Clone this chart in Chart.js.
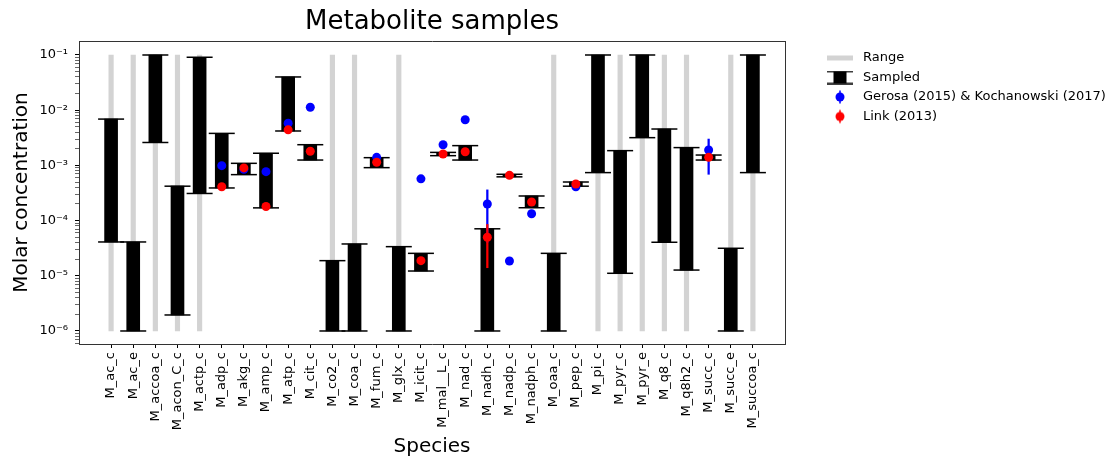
<!DOCTYPE html>
<html>
<head>
<meta charset="utf-8">
<script src="https://cdn.jsdelivr.net/npm/chart.js@4.4.0/dist/chart.umd.min.js"></script>
<style>
  html, body { margin: 0; padding: 0; background: #fff; }
  #wrap { width: 1110px; height: 456px; }
</style>
</head>
<body>
<div id="wrap"><canvas id="chart" width="1110" height="456"></canvas></div>
<script>
// species along the x axis
const species = ['M_ac_c', 'M_ac_e', 'M_accoa_c', 'M_acon_C_c', 'M_actp_c', 'M_adp_c', 'M_akg_c', 'M_amp_c',
  'M_atp_c', 'M_cit_c', 'M_co2_c', 'M_coa_c', 'M_fum_c', 'M_glx_c', 'M_icit_c', 'M_mal__L_c', 'M_nad_c',
  'M_nadh_c', 'M_nadp_c', 'M_nadph_c', 'M_oaa_c', 'M_pep_c', 'M_pi_c', 'M_pyr_c', 'M_pyr_e', 'M_q8_c',
  'M_q8h2_c', 'M_succ_c', 'M_succ_e', 'M_succoa_c'];

// allowed range (null = same as the sampled bar)
const rangeLo = [1e-6, 1e-6, 1e-6, 1e-6, 1e-6, null, null, null, null, null, 1e-6, 1e-6, null, 1e-6, null,
  null, null, null, null, null, 1e-6, null, 1e-6, 1e-6, 1e-6, 1e-6, 1e-6, null, 1e-6, 1e-6];
const rangeHi = [0.1, 0.1, 0.1, 0.1, 0.1, null, null, null, null, null, 0.1, 0.1, null, 0.1, null,
  null, null, null, null, null, 0.1, null, 0.1, 0.1, 0.1, 0.1, 0.1, null, 0.1, 0.1];

// sampled interval
const sampledLo = [4.1e-5, 1e-6, 2.6e-3, 1.95e-6, 3.1e-4, 3.9e-4, 6.8e-4, 1.7e-4, 4.2e-3, 1.25e-3, 1e-6, 1e-6,
  9.1e-4, 1e-6, 1.22e-5, 1.5e-3, 1.25e-3, 1e-6, 6.2e-4, 1.71e-4, 1e-6, 4.2e-4, 7.4e-4, 1.11e-5, 3.18e-3,
  4.05e-5, 1.27e-5, 1.25e-3, 1e-6, 7.4e-4];
const sampledHi = [6.9e-3, 4.1e-5, 0.1, 4.2e-4, 0.091, 3.8e-3, 1.09e-3, 1.66e-3, 0.04, 2.37e-3, 1.88e-5, 3.77e-5,
  1.38e-3, 3.37e-5, 2.55e-5, 1.72e-3, 2.28e-3, 7.1e-5, 6.9e-4, 2.79e-4, 2.55e-5, 5.0e-4, 0.1, 1.85e-3, 0.1,
  4.56e-3, 2.1e-3, 1.54e-3, 3.15e-5, 0.1];

// Gerosa (2015) & Kochanowski (2017)
const gerosa = [null, null, null, null, null, 9.9e-4, 8.5e-4, 7.7e-4, 5.8e-3, 0.0113, null, null, 1.4e-3, null,
  5.7e-4, 2.37e-3, 6.7e-3, 2.0e-4, 1.85e-5, 1.33e-4, null, 4.1e-4, null, null, null, null, null, 1.9e-3, null, null];
const gerosaErrLo = [null, null, null, null, null, null, null, null, null, null, null, null, null, null, null,
  null, null, 4e-5, null, null, null, null, null, null, null, null, null, 6.9e-4, null, null];
const gerosaErrHi = [null, null, null, null, null, null, null, null, null, null, null, null, null, null, null,
  null, null, 3.6e-4, null, null, null, null, null, null, null, null, null, 3.0e-3, null, null];

// Link (2013)
const link = [null, null, null, null, null, 4.1e-4, 9e-4, 1.8e-4, 4.4e-3, 1.8e-3, null, null, 1.14e-3, null,
  1.88e-5, 1.61e-3, 1.77e-3, 5.0e-5, 6.6e-4, 2.17e-4, null, 4.6e-4, null, null, null, null, null, 1.4e-3, null, null];
const linkErrLo = [null, null, null, null, null, null, null, null, null, null, null, null, null, null, null,
  null, null, 1.4e-5, null, null, null, null, null, null, null, null, null, null, null, null];
const linkErrHi = [null, null, null, null, null, null, null, null, null, null, null, null, null, null, null,
  null, null, 8.5e-5, null, null, null, null, null, null, null, null, null, null, null, null];

const yDecades = [-7, -6, -5, -4, -3, -2, -1];

const FONT = 'DejaVu Sans';
const sup = { '-': '\u207B', '0': '\u2070', '1': '\u00B9', '2': '\u00B2', '3': '\u00B3', '4': '\u2074',
  '5': '\u2075', '6': '\u2076', '7': '\u2077' };

function bars(lo, hi) {
  return species.map((s, i) => (lo[i] == null ? null : { x: i, y: [lo[i], hi[i]] })).filter(Boolean);
}
function pts(vals) {
  return species.map((s, i) => (vals[i] == null ? null : { x: i, y: vals[i] })).filter(Boolean);
}
const caps = pts(sampledLo).concat(pts(sampledHi));

// legend icons
function icon(w, h, draw) {
  const c = document.createElement('canvas');
  c.width = w; c.height = h;
  draw(c.getContext('2d'));
  return c;
}
const rangeIcon = icon(28, 6, g => { g.fillStyle = '#d3d3d3'; g.fillRect(1, 0.5, 26, 5); });
const sampledIcon = icon(28, 14, g => {
  g.fillStyle = '#000'; g.fillRect(7.5, 1, 13, 12);
  g.strokeStyle = '#000'; g.lineWidth = 1.5;
  g.beginPath(); g.moveTo(1, 1); g.lineTo(27, 1); g.moveTo(1, 13); g.lineTo(27, 13); g.stroke();
});
function dotIcon(color) {
  return icon(12, 16, g => {
    g.strokeStyle = color; g.lineWidth = 1.5;
    g.beginPath(); g.moveTo(6, 1.5); g.lineTo(6, 14.5); g.stroke();
    g.fillStyle = color; g.beginPath(); g.arc(6, 8, 4.5, 0, Math.PI * 2); g.fill();
  });
}

new Chart(document.getElementById('chart'), {
  type: 'bar',
  data: {
    datasets: [
      { label: 'Range', data: bars(rangeLo, rangeHi), backgroundColor: '#d3d3d3', barThickness: 4.5, grouped: false, order: 7 },
      { label: 'Sampled', data: bars(sampledLo, sampledHi), backgroundColor: '#000', barThickness: 13, grouped: false, order: 6 },
      { type: 'scatter', label: 'Sampled caps', data: caps, pointStyle: 'line', pointRadius: 13,
        borderColor: '#000', borderWidth: 1.5, order: 5 },
      { label: 'Gerosa err', data: bars(gerosaErrLo, gerosaErrHi), backgroundColor: '#0000ff', barThickness: 1.6, grouped: false, order: 4 },
      { type: 'scatter', label: 'Gerosa (2015) & Kochanowski (2017)', data: pts(gerosa), pointRadius: 4.5,
        backgroundColor: '#0000ff', borderWidth: 0, order: 3 },
      { label: 'Link err', data: bars(linkErrLo, linkErrHi), backgroundColor: '#ff0000', barThickness: 1.6, grouped: false, order: 2 },
      { type: 'scatter', label: 'Link (2013)', data: pts(link), pointRadius: 4.5,
        backgroundColor: '#ff0000', borderWidth: 0, order: 1 }
    ]
  },
  options: {
    responsive: false,
    animation: false,
    events: [],
    devicePixelRatio: 1,
    layout: { padding: 0 },
    scales: {
      x: {
        type: 'linear', min: -1.45, max: 30.45, offset: false,
        afterBuildTicks: s => { s.ticks = species.map((n, i) => ({ value: i })); },
        afterFit: s => { s.height = 112; },
        ticks: {
          autoSkip: false, maxRotation: 90, minRotation: 90, padding: 4, color: '#000',
          font: { family: FONT, size: 13 },
          callback: v => species[v]
        },
        grid: { offset: false, drawOnChartArea: false, drawTicks: true, tickLength: 4, tickColor: '#000' },
        border: { color: '#333', width: 1 },
        title: { display: true, text: 'Species', color: '#000', font: { family: FONT, size: 20 }, padding: { top: 0, bottom: -3 } }
      },
      y: {
        type: 'logarithmic', min: 5.81e-7, max: 0.1793,
        afterBuildTicks: s => {
          const t = [];
          yDecades.forEach(e => {
            for (let k = 1; k <= 9; k++) {
              const v = k * Math.pow(10, e);
              if (v >= s.min && v <= s.max) t.push({ value: v, major: k === 1 });
            }
          });
          s.ticks = t;
        },
        afterFit: s => { s.width = 79; },
        ticks: {
          autoSkip: false, padding: 7, color: '#000',
          font: { family: FONT, size: 13 },
          callback: (v, i, ticks) => {
            if (!ticks[i].major) return '';
            const e = String(Math.round(Math.log10(v)));
            return '10' + e.split('').map(c => sup[c]).join('');
          }
        },
        grid: {
          drawOnChartArea: false, drawTicks: true, tickLength: 4, tickColor: '#000',
          tickWidth: c => (c.tick && c.tick.major ? 1 : 0.6)
        },
        border: { color: '#333', width: 1 },
        title: { display: true, text: 'Molar concentration', color: '#000', font: { family: FONT, size: 20 }, padding: { top: 10, bottom: 0 } }
      },
      y2: {
        type: 'linear', position: 'right', display: true,
        grid: { display: false }, ticks: { display: false },
        border: { color: '#333', width: 1 },
        afterFit: s => { s.width = 32; }
      },
      x2: {
        type: 'linear', position: 'top', display: true,
        grid: { display: false }, ticks: { display: false },
        border: { color: '#333', width: 1 },
        afterFit: s => { s.height = 0; }
      }
    },
    plugins: {
      title: {
        display: true, text: 'Metabolite samples', fullSize: false, color: '#000',
        font: { family: FONT, size: 26, weight: 'normal' }, padding: { top: 6.4, bottom: 3.4 }
      },
      legend: {
        position: 'right', align: 'start', fullSize: false, maxWidth: 293,
        title: { display: true, text: '', font: { size: 1, lineHeight: 1 }, padding: { top: 3, bottom: 0 } },
        labels: {
          usePointStyle: true, pointStyleWidth: 33, padding: 6.5, color: '#000',
          font: { family: FONT, size: 13 },
          generateLabels: () => [
            { text: 'Range', pointStyle: rangeIcon, datasetIndex: 0, hidden: false, lineWidth: 0, fontColor: '#000' },
            { text: 'Sampled', pointStyle: sampledIcon, datasetIndex: 1, hidden: false, lineWidth: 0, fontColor: '#000' },
            { text: 'Gerosa (2015) & Kochanowski (2017)', pointStyle: dotIcon('#0000ff'), datasetIndex: 4, hidden: false, lineWidth: 0, fontColor: '#000' },
            { text: 'Link (2013)', pointStyle: dotIcon('#ff0000'), datasetIndex: 6, hidden: false, lineWidth: 0, fontColor: '#000' }
          ]
        }
      },
      tooltip: { enabled: false }
    }
  }
});
</script>
</body>
</html>
